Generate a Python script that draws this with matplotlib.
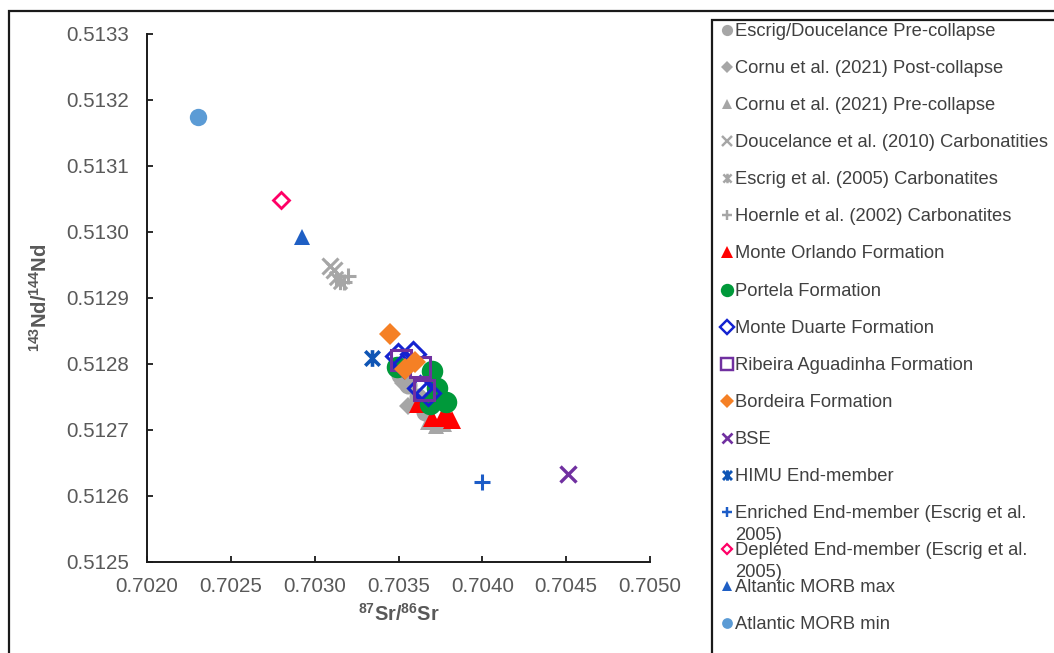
import matplotlib
matplotlib.use("Agg")
import matplotlib.pyplot as plt
from matplotlib.path import Path

plt.rcParams['font.family'] = ['Liberation Sans', 'DejaVu Sans']
plt.rcParams['mathtext.fontset'] = 'custom'
plt.rcParams['mathtext.rm'] = 'Liberation Sans'
plt.rcParams['mathtext.bf'] = 'Liberation Sans:bold'

# ---- isotope data (87Sr/86Sr, 143Nd/144Nd) ----
escrig_pre_sr = [0.703509, 0.703557, 0.703616, 0.703658]
escrig_pre_nd = [0.512783, 0.512768, 0.512749, 0.512727]

cornu_post_sr = [0.703527, 0.703557]
cornu_post_nd = [0.512770, 0.512735]

cornu_pre_sr = [0.703676, 0.703724, 0.703771]
cornu_pre_nd = [0.512712, 0.512706, 0.512709]

doucelance_carb_sr = [0.703091, 0.703115]
doucelance_carb_nd = [0.512948, 0.512942]

escrig_carb_sr = [0.703127, 0.703151]
escrig_carb_nd = [0.512930, 0.512923]

hoernle_carb_sr = [0.703199, 0.703175]
hoernle_carb_nd = [0.512933, 0.512924]

monte_orlando_sr = [0.703616, 0.703700, 0.703759, 0.703819, 0.703783]
monte_orlando_nd = [0.512738, 0.512718, 0.512718, 0.512715, 0.512727]

portela_sr = [0.703491, 0.703700, 0.703730, 0.703783, 0.703688]
portela_nd = [0.512794, 0.512788, 0.512763, 0.512742, 0.512739]

monte_duarte_sr = [0.703497, 0.703586, 0.703533, 0.703676, 0.703628]
monte_duarte_nd = [0.512812, 0.512815, 0.512797, 0.512755, 0.512763]

ribeira_sr = [0.703515, 0.703628, 0.703652]
ribeira_nd = [0.512806, 0.512795, 0.512760]

bordeira_sr = [0.703449, 0.703539, 0.703598]
bordeira_nd = [0.512845, 0.512792, 0.512803]

bse_sr = [0.70451]
bse_nd = [0.512633]

himu_sr = [0.70334]
himu_nd = [0.512809]

enriched_sr = [0.70400]
enriched_nd = [0.512620]

depleted_sr = [0.70280]
depleted_nd = [0.513048]

morb_max_sr = [0.702923]
morb_max_nd = [0.512991]

morb_min_sr = [0.702304]
morb_min_nd = [0.513173]

labels = [
    "Escrig/Doucelance Pre-collapse",
    "Cornu et al. (2021) Post-collapse",
    "Cornu et al. (2021) Pre-collapse",
    "Doucelance et al. (2010) Carbonatities",
    "Escrig et al. (2005) Carbonatites",
    "Hoernle et al. (2002) Carbonatites",
    "Monte Orlando Formation",
    "Portela Formation",
    "Monte Duarte Formation",
    "Ribeira Aguadinha Formation",
    "Bordeira Formation",
    "BSE",
    "HIMU End-member",
    "Enriched End-member (Escrig et al.\n2005)",
    "Depleted End-member (Escrig et al.\n2005)",
    "Altantic MORB max",
    "Atlantic MORB min",
]

xticks = [0.7020, 0.7025, 0.7030, 0.7035, 0.7040, 0.7045, 0.7050]
yticks = [0.5125, 0.5126, 0.5127, 0.5128, 0.5129, 0.5130, 0.5131, 0.5132, 0.5133]

# Excel-style "star" marker: an X crossed by a vertical bar
star = Path([(-1, -1), (1, 1), (-1, 1), (1, -1), (0, -1.15), (0, 1.15)],
            [Path.MOVETO, Path.LINETO, Path.MOVETO, Path.LINETO,
             Path.MOVETO, Path.LINETO])

GRAY = '#A6A6A6'
series = [
    (escrig_pre_sr, escrig_pre_nd, dict(marker='o', ms=13, mfc=GRAY, mec=GRAY, mew=0)),
    (cornu_post_sr, cornu_post_nd, dict(marker='D', ms=9.5, mfc=GRAY, mec=GRAY, mew=0)),
    (cornu_pre_sr, cornu_pre_nd, dict(marker='^', ms=12, mfc=GRAY, mec=GRAY, mew=0)),
    (doucelance_carb_sr, doucelance_carb_nd, dict(marker='x', ms=11, mec=GRAY, mew=2.2)),
    (escrig_carb_sr, escrig_carb_nd, dict(marker=star, ms=11, mec=GRAY, mfc='none', mew=2.2)),
    (hoernle_carb_sr, hoernle_carb_nd, dict(marker='+', ms=11, mec=GRAY, mew=2.2)),
    (monte_orlando_sr, monte_orlando_nd, dict(marker='^', ms=13.5, mfc='#FF0000', mec='#FF0000', mew=0)),
    (portela_sr, portela_nd, dict(marker='o', ms=15.5, mfc='#00993A', mec='#00993A', mew=0)),
    (monte_duarte_sr, monte_duarte_nd, dict(marker='D', ms=12, mfc='none', mec='#1423D0', mew=2.2)),
    (ribeira_sr, ribeira_nd, dict(marker='s', ms=14, mfc='none', mec='#7030A0', mew=2.2)),
    (bordeira_sr, bordeira_nd, dict(marker='D', ms=11, mfc='#F58025', mec='#F58025', mew=0)),
    (bse_sr, bse_nd, dict(marker='x', ms=12, mec='#7030A0', mew=2.4)),
    (himu_sr, himu_nd, dict(marker=star, ms=12, mec='#0F55B5', mfc='none', mew=2.6)),
    (enriched_sr, enriched_nd, dict(marker='+', ms=11.5, mec='#1C5CC7', mew=2.2)),
    (depleted_sr, depleted_nd, dict(marker='D', ms=8.6, mfc='white', mec='#FF0066', mew=2.0)),
    (morb_max_sr, morb_max_nd, dict(marker='^', ms=11, mfc='#1F5FC4', mec='#1F5FC4', mew=0)),
    (morb_min_sr, morb_min_nd, dict(marker='o', ms=12.5, mfc='#5B9BD5', mec='#5B9BD5', mew=0)),
]

W, H = 1054, 653
fig = plt.figure(figsize=(W / 100, H / 100), dpi=100)

# plot area in pixel terms
left, right, top, bottom = 147, 650, 33.5, 561.5
ax = fig.add_axes([left / W, 1 - bottom / H, (right - left) / W, (bottom - top) / H])

for xs, ys, st in series:
    ax.plot(xs, ys, linestyle='none', clip_on=False, **st)

ax.set_xlim(xticks[0], xticks[-1])
ax.set_ylim(yticks[0], yticks[-1])
ax.set_xticks(xticks)
ax.set_yticks(yticks)
ax.set_xticklabels([f"{v:.4f}" for v in xticks])
ax.set_yticklabels([f"{v:.4f}" for v in yticks])
for s in ('top', 'right'):
    ax.spines[s].set_visible(False)
for s in ('left', 'bottom'):
    ax.spines[s].set_color('#1a1a1a')
    ax.spines[s].set_linewidth(1.4)
ax.tick_params(direction='in', length=4, width=1.3, color='#1a1a1a',
               labelsize=14.8, labelcolor='#595959')
ax.tick_params(axis='y', pad=13)
ax.tick_params(axis='x', pad=11)

ax.set_xlabel(r'$\mathbf{^{87}Sr/^{86}Sr}$', fontsize=14.3, color='#595959', labelpad=5)
ax.set_ylabel(r'$\mathbf{^{143}Nd/^{144}Nd}$', fontsize=14.5, color='#595959', labelpad=11)

# ---- outer frame and legend panel (pixel coordinates) ----
ov = fig.add_axes([0, 0, 1, 1], zorder=5)
ov.set_xlim(0, W)
ov.set_ylim(H, 0)
ov.axis('off')
ov.patch.set_alpha(0)

ov.plot([9, 9, W + 5], [H + 5, 11, 11], color='#1a1a1a', lw=1.6, solid_joinstyle='miter')
ov.plot([711.5, 711.5, W + 5], [H + 5, 20, 20], color='#1a1a1a', lw=1.6, solid_joinstyle='miter')

leg_scale = 0.62
y0, dy, line_gap = 29.8, 37.1, 21.5
for i, ((xs, ys, st), lab) in enumerate(zip(series, labels)):
    y = y0 + i * dy
    lst = dict(st)
    lst['ms'] = st['ms'] * leg_scale
    lst['mew'] = st['mew'] * 0.8
    ov.plot([727], [y], linestyle='none', **lst)
    for j, part in enumerate(lab.split('\n')):
        ov.text(735, y + 6 + j * line_gap, part, fontsize=13.2, color='#404040',
                va='baseline', ha='left')

fig.savefig('out.png', dpi=100)
